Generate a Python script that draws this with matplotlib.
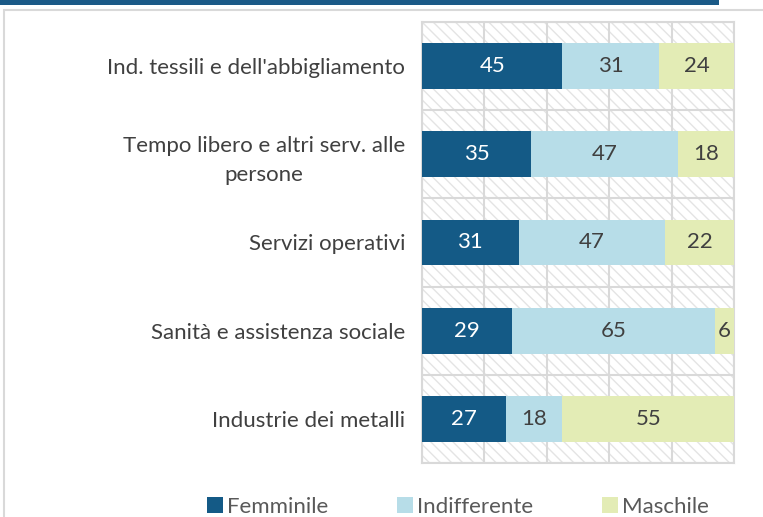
#!/usr/bin/env python3
"""Stacked horizontal bars: orientation of sectors (Femminile / Indifferente / Maschile)."""

import matplotlib

matplotlib.use("Agg")
import matplotlib.pyplot as plt
from matplotlib.patches import Rectangle
import numpy as np

categories = [
    "Ind. tessili e dell'abbigliamento",
    "Tempo libero e altri serv. alle\npersone",
    "Servizi operativi",
    "Sanità e assistenza sociale",
    "Industrie dei metalli",
]
femminile = [45, 35, 31, 29, 27]
indifferente = [31, 47, 47, 65, 18]
maschile = [24, 18, 22, 6, 55]
series_names = ["Femminile", "Indifferente", "Maschile"]

colors = ["#145a86", "#b7dde8", "#e3ecb5"]
text_colors = ["white", "#404040", "#404040"]
grid_color = "#d9d9d9"

plt.rcParams["font.family"] = ["Lato", "DejaVu Sans"]
plt.rcParams["hatch.linewidth"] = 1.0

fig = plt.figure(figsize=(7.63, 5.17), dpi=100)
W, H = 763, 517

# outer chart frame and the blue rule from the box above
fig.add_artist(Rectangle((4 / W, -0.1), 1.1, 1 - 10 / H + 0.1, transform=fig.transFigure,
                         facecolor="none", edgecolor="#d9d9d9", lw=1.5))
fig.add_artist(Rectangle((0, 1 - 5 / H), 719 / W, 6 / H, transform=fig.transFigure,
                         facecolor="#1b5a87", edgecolor="none"))

ax = fig.add_axes([422 / W, 1 - 463 / H, (734 - 422) / W, (463 - 22) / H])
ax.patch.set_visible(False)
ax.add_patch(Rectangle((0, 0), 1, 1, transform=ax.transAxes, facecolor="white",
                       edgecolor="#e4e4e4", lw=0, hatch="\\\\\\", zorder=0))

y = np.arange(len(categories))
left = np.zeros(len(categories))
for name, vals, col, tcol in zip(series_names, [femminile, indifferente, maschile], colors, text_colors):
    bars = ax.barh(y, vals, left=left, height=0.52, color=col, label=name, zorder=3)
    ax.bar_label(bars, labels=[str(v) for v in vals], label_type="center",
                 color=tcol, fontsize=16)
    left += np.array(vals)

ax.set_xlim(0, 100)
ax.set_ylim(len(categories) - 0.5, -0.5)
ax.set_xticks(np.arange(0, 101, 20))
ax.set_yticks(np.arange(-0.5, len(categories), 1.0), minor=True)
ax.xaxis.grid(True, color=grid_color, lw=1.5, zorder=1)
ax.yaxis.grid(True, which="minor", color=grid_color, lw=1.5, zorder=1)
ax.set_axisbelow(True)
ax.tick_params(axis="x", length=0, labelbottom=False)
ax.tick_params(axis="y", which="both", length=0)
ax.set_yticks(y)
ax.set_yticklabels(categories, fontsize=16, color="#404040", ha="right",
                   multialignment="center", linespacing=1.55)
ax.tick_params(axis="y", pad=12)
for s in ax.spines.values():
    s.set_color(grid_color)
    s.set_linewidth(1.5)

ax.legend(loc="center", bbox_to_anchor=(458 / W, 1 - 507 / H),
          bbox_transform=fig.transFigure, ncol=3, frameon=False, fontsize=16,
          handlelength=0.7, handleheight=0.7, handletextpad=0.2, columnspacing=3.1,
          labelcolor="#595959")

fig.savefig("out.png", dpi=100)
